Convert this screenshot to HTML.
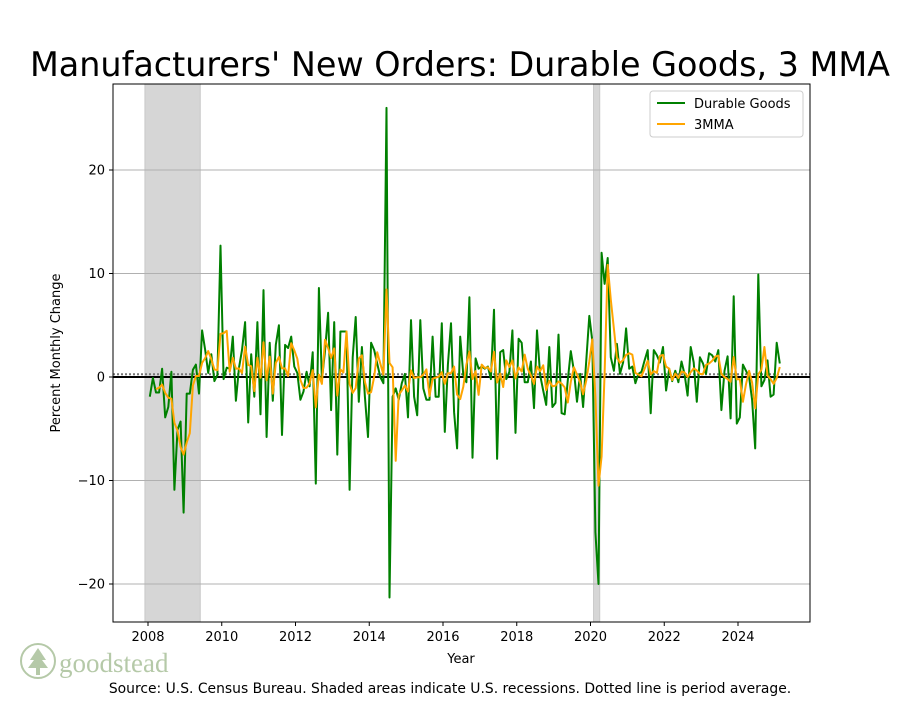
<!DOCTYPE html>
<html><head><meta charset="utf-8">
<style>
body{margin:0;background:#fff;}
svg text{font-family:"DejaVu Sans","Liberation Sans",sans-serif;}
</style></head>
<body>
<svg id="chart" width="900" height="700" viewBox="0 0 900 700" xmlns="http://www.w3.org/2000/svg">
<rect width="900" height="700" fill="#fff"/>
<text x="460" y="76" font-size="33.4" text-anchor="middle">Manufacturers' New Orders: Durable Goods, 3 MMA</text>
<g id="recessions"></g>
<g id="grid"></g>
<g id="series"></g>
<rect x="113" y="84" width="697" height="538" fill="none" stroke="#000" stroke-width="1"/>
<g id="axes"></g>
<text x="60" y="353" font-size="13" text-anchor="middle" transform="rotate(-90 60 353)">Percent Monthly Change</text>
<text x="461" y="663" font-size="13" text-anchor="middle">Year</text>
<g>
<rect x="650" y="91" width="153" height="46" rx="3" fill="#fff" stroke="#ccc"/>
<g>
<line x1="657" y1="103" x2="685" y2="103" stroke="#008000" stroke-width="2"/>
<text x="694" y="108" font-size="13">Durable Goods</text></g>
<g>
<line x1="657" y1="124" x2="685" y2="124" stroke="#ffa500" stroke-width="2"/>
<text x="694" y="129" font-size="13">3MMA</text></g>
</g>
<g>
<circle cx="38" cy="661" r="17" fill="none" stroke="#b5c9a8" stroke-width="2"/>
<path d="M38 648 L30 660 L34 660 L28 668 L36 668 L36 675 L40 675 L40 668 L48 668 L42 660 L46 660 Z" fill="#b5c9a8"/>
<text x="59" y="672" font-size="27" fill="#b5c9a8" style="font-family:'Liberation Serif',serif">goodstead</text>
</g>
<text x="450" y="693" font-size="13.9" text-anchor="middle">Source: U.S. Census Bureau. Shaded areas indicate U.S. recessions. Dotted line is period average.</text>
</svg>
<script>
const startYear = 2008;
const durableGoods = [-1.9,-0.1,-1.5,-1.5,0.8,-3.9,-2.9,0.5,-10.9,-5.1,-4.3,-13.1,-1.6,-1.6,0.7,1.2,-1.6,4.5,2.6,0.4,2.2,-0.4,0.2,12.7,-0.2,0.9,0.8,3.9,-2.3,0.9,2.6,5.3,-4.4,2.2,-1.9,5.3,-3.6,8.4,-5.8,
3.3,-2.3,3.1,5.0,-5.6,3.1,2.8,3.9,1.0,0.4,-2.2,-1.4,0.5,-0.9,2.4,-10.3,8.6,-0.3,2.5,6.2,-3.2,5.3,-7.5,4.4,4.4,4.4,-10.9,1.9,5.8,-2.4,2.9,-1.9,-5.8,3.3,2.6,1.3,0,-0.6,26.0,
-21.3,-1.9,-1.1,-2.2,-0.6,0.3,-3.9,5.5,-1.9,-3.7,5.5,-1.1,-2.2,-2.2,3.9,-1.9,-1.9,5.2,-5.3,1.2,5.2,-3.4,-6.9,3.9,0.2,-0.5,7.7,-7.8,1.8,0.8,1.0,0.8,1.0,-0.2,6.5,-7.9,2.4,2.6,-0.2,
0.5,4.5,-5.4,3.7,3.3,-0.5,-0.5,1.5,-3.0,4.5,0.2,-1.3,-2.7,2.9,-2.9,-2.5,4.1,-3.5,-3.6,-0.3,2.5,0.6,-2.4,0.3,-2.9,1.5,5.9,3.5,-15.0,-20.0,
12.0,9.0,11.5,1.9,0.6,3.2,0.3,1.4,4.7,0.8,1.0,-0.6,0.3,0.5,1.6,2.6,-3.5,2.6,2.1,1.4,2.9,-1.3,0.8,-0.4,0.6,-0.5,1.5,0.3,-1.8,2.9,1.4,-2.4,1.9,1.3,0.3,
2.3,2.1,1.5,2.6,-3.2,0.6,2.0,-4.0,7.8,-4.5,-3.9,1.2,0.6,0.0,-2.2,-6.9,9.9,-0.9,-0.3,1.6,-1.9,-1.7,3.3,1.3];
const yTicks = [-20,-10,0,10,20];
const xTicks = [2008,2010,2012,2014,2016,2018,2020,2022,2024];
const recessionStarts = [2007.917, 2020.083];
const recessionEnds = [2009.417, 2020.25];

const NS = "http://www.w3.org/2000/svg";
const X0 = 113, X1 = 810, Y0 = 84, Y1 = 622;
const xScale = y => 148 + (y - 2008) * 36.875;
const yScale = v => 377 - v * 10.35;
function mk(tag, attrs, parent){const e=document.createElementNS(NS,tag);for(const k in attrs)e.setAttribute(k,attrs[k]);parent.appendChild(e);return e;}

const rec = document.getElementById('recessions');
recessionStarts.forEach((s,i)=>{
  const r = mk('rect',{x:xScale(s),y:Y0,width:xScale(recessionEnds[i])-xScale(s),height:Y1-Y0,fill:'#d6d6d6',stroke:'#c8c8c8'},rec);
  
  
});
const grid = document.getElementById('grid');
yTicks.forEach(t=>{
  if(t===0) return;
  const l = mk('line',{x1:X0,x2:X1,y1:yScale(t),y2:yScale(t),stroke:'#b0b0b0','stroke-width':1},grid);
  
  
});
const ser = document.getElementById('series');
const mean = durableGoods.reduce((a,b)=>a+b,0)/durableGoods.length;
const ml = mk('line',{x1:X0,x2:X1,y1:yScale(mean),y2:yScale(mean),stroke:'#777','stroke-width':2,'stroke-dasharray':'2,2'},ser);


const zl = mk('line',{x1:X0,x2:X1,y1:yScale(0),y2:yScale(0),stroke:'#000','stroke-width':2},ser);


const tx = i => xScale(startYear + i/12 + 0.05);
const gp = durableGoods.map((v,i)=>tx(i).toFixed(1)+','+yScale(v).toFixed(1)).join(' ');
const g1 = mk('polyline',{points:gp,fill:'none',stroke:'#008000','stroke-width':2,'stroke-linejoin':'round'},ser);


const mma = [];
for(let i=2;i<durableGoods.length;i++){mma.push([i,(durableGoods[i]+durableGoods[i-1]+durableGoods[i-2])/3]);}
const op = mma.map(p=>tx(p[0]).toFixed(1)+','+yScale(p[1]).toFixed(1)).join(' ');
const g2 = mk('polyline',{points:op,fill:'none',stroke:'#ffa500','stroke-width':2,'stroke-linejoin':'round'},ser);



const ax = document.getElementById('axes');
yTicks.forEach(t=>{
  mk('line',{x1:X0-4,x2:X0,y1:yScale(t),y2:yScale(t),stroke:'#000'},ax);
  const tt = mk('text',{x:X0-8,y:yScale(t)+4.5,'font-size':13,'text-anchor':'end'},ax);
  tt.textContent = t<0 ? '\u2212'+Math.abs(t) : String(t);
  
  
});
xTicks.forEach(t=>{
  mk('line',{x1:xScale(t),x2:xScale(t),y1:Y1,y2:Y1+4,stroke:'#000'},ax);
  const tt = mk('text',{x:xScale(t),y:Y1+19,'font-size':13,'text-anchor':'middle'},ax);
  tt.textContent = String(t);
  
  
});
</script>
</body></html>
